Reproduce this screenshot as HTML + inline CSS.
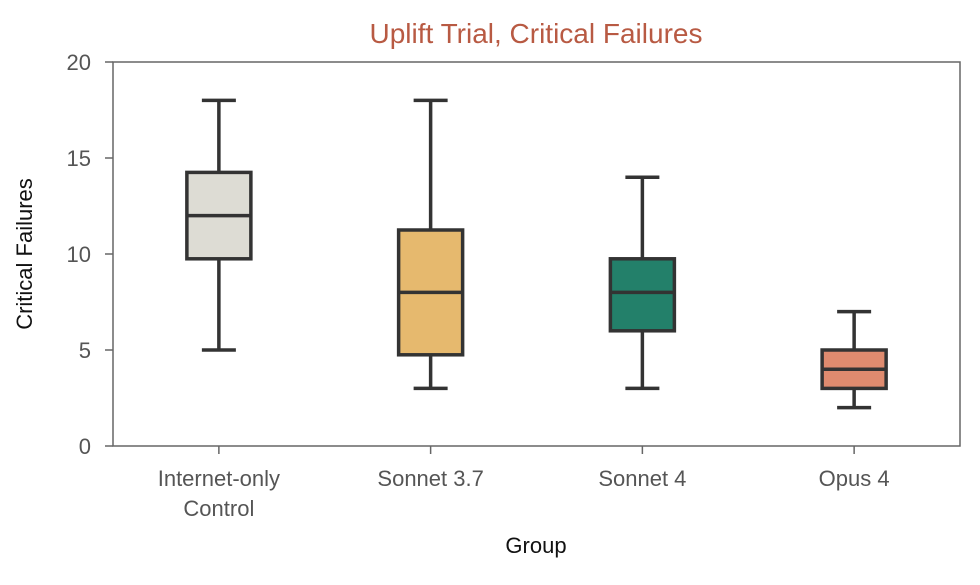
<!DOCTYPE html>
<html><head><meta charset="utf-8"><style>
body{margin:0;background:#fff;}
svg text{font-family:"Liberation Sans",sans-serif;}
</style></head><body>
<svg id="chart" width="980" height="580"></svg>
<script>
const categories = ["Internet-only|Control","Sonnet 3.7","Sonnet 4","Opus 4"];
const whiskerLow = [5, 3, 3, 2];
const q1 = [9.75, 4.75, 6, 3];
const medians = [12, 8, 8, 4];
const q3 = [14.25, 11.25, 9.75, 5];
const whiskerHigh = [18, 18, 14, 7];
const colors = ["#dddcd4","#e6b96e","#23806a","#df8b6f"];
const yTicks = [0,5,10,15,20];

const svg = document.getElementById('chart');
const NS = 'http://www.w3.org/2000/svg';
const L=113,R=960,T=62,B=446;
const y = v => B - (v/20)*(B-T);
const step = (R-L)/categories.length;
const x = i => L + step*(i+0.5);
function mk(tag, attrs, parent){const e=document.createElementNS(NS,tag);for(const k in attrs)e.setAttribute(k,attrs[k]);(parent||svg).appendChild(e);return e;}

const title = mk('text',{x:536,y:43,'text-anchor':'middle','font-size':28,fill:'#b85a43'});
title.textContent='Uplift Trial, Critical Failures';



const frame = mk('rect',{x:L,y:T,width:R-L,height:B-T,fill:'none',stroke:'#666','stroke-width':1.5});



yTicks.forEach(t=>{
  const tk = mk('line',{x1:L-8,x2:L,y1:y(t),y2:y(t),stroke:'#666','stroke-width':1.5});
  
  
  const lb = mk('text',{x:L-22,y:y(t)+8,'text-anchor':'end','font-size':22,fill:'#555'});
  lb.textContent=t;
  
  
});

const yt = mk('text',{x:32,y:254,'text-anchor':'middle','font-size':22,fill:'#111',transform:'rotate(-90 32 254)'});
yt.textContent='Critical Failures';


const xt = mk('text',{x:536,y:553,'text-anchor':'middle','font-size':22,fill:'#111'});
xt.textContent='Group';



const bw=64, cap=34, st='#333', sw=3.5;
categories.forEach((c,i)=>{
  const cx=x(i);
  const g=mk('g',{});
  
  
  mk('line',{x1:cx,x2:cx,y1:y(whiskerHigh[i]),y2:y(q3[i]),stroke:st,'stroke-width':sw},g);
  mk('line',{x1:cx,x2:cx,y1:y(q1[i]),y2:y(whiskerLow[i]),stroke:st,'stroke-width':sw},g);
  mk('line',{x1:cx-cap/2,x2:cx+cap/2,y1:y(whiskerHigh[i]),y2:y(whiskerHigh[i]),stroke:st,'stroke-width':sw},g);
  mk('line',{x1:cx-cap/2,x2:cx+cap/2,y1:y(whiskerLow[i]),y2:y(whiskerLow[i]),stroke:st,'stroke-width':sw},g);
  mk('rect',{x:cx-bw/2,y:y(q3[i]),width:bw,height:y(q1[i])-y(q3[i]),fill:colors[i],stroke:st,'stroke-width':sw},g);
  mk('line',{x1:cx-bw/2,x2:cx+bw/2,y1:y(medians[i]),y2:y(medians[i]),stroke:st,'stroke-width':sw},g);
  const tk=mk('line',{x1:cx,x2:cx,y1:B,y2:B+8,stroke:'#666','stroke-width':1.5});
  
  
  c.split('|').forEach((ln,j)=>{
    const t=mk('text',{x:cx,y:486+j*30,'text-anchor':'middle','font-size':22,fill:'#555'});
    t.textContent=ln;
    
    
  });
});
</script>
</body></html>
